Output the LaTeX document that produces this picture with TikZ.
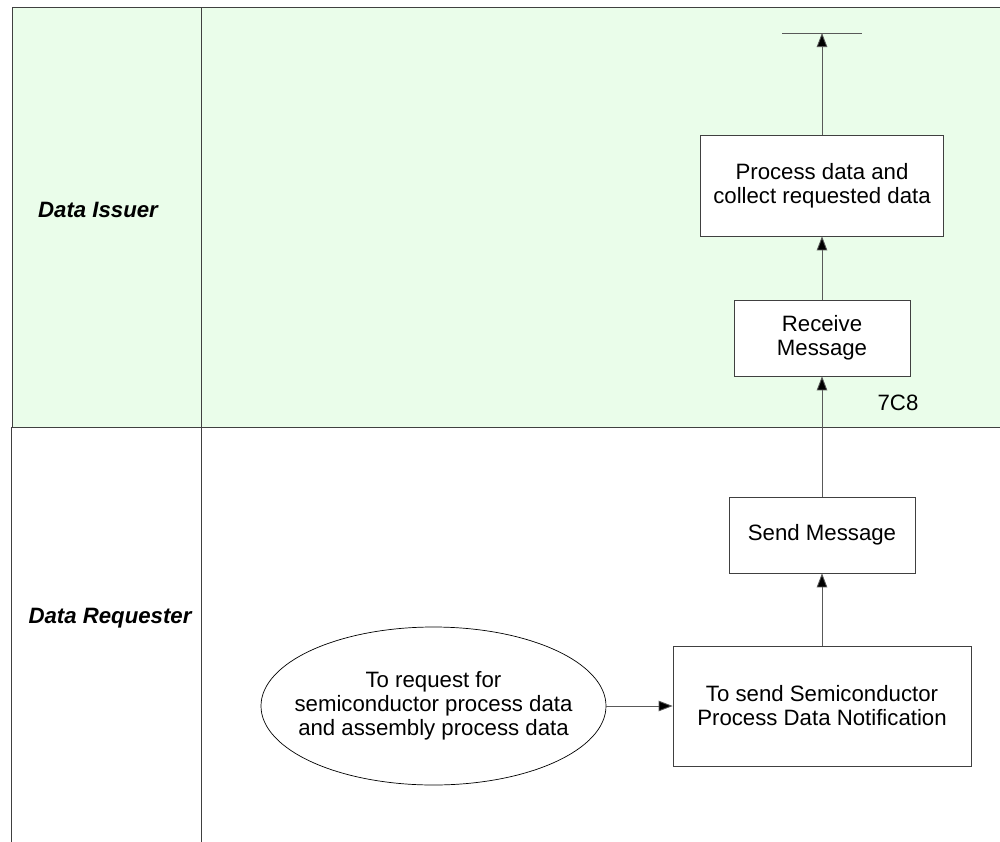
\documentclass[tikz,border=0pt]{standalone}
\usepackage{fontspec}
\setmainfont{Liberation Sans}
\usetikzlibrary{shapes.geometric,arrows.meta}
\definecolor{lanegreen}{RGB}{234,253,234}
\definecolor{edge}{RGB}{64,64,64}

\begin{document}
\begin{tikzpicture}[x=0.025cm,y=-0.025cm,
  every node/.style={inner sep=1pt,font=\fontsize{15.8}{17}\selectfont,align=center},
  stepbox/.style={draw=edge,fill=white,line width=0.5pt,minimum width=#1},
  flow/.style={draw=black!65,line width=0.6pt,-{Triangle[length=10pt,width=7.5pt,fill=black]}},
  lane/.style={draw=edge,line width=0.6pt},
  lanelabel/.style={font=\fontsize{15.8}{17}\selectfont\bfseries\itshape}]
\useasboundingbox (0,0) rectangle (1000,842);
\fill[lanegreen] (12,7) rectangle (1000,427);
\draw[lane] (12,427) -- (12,7) -- (1000,7);
\draw[lane] (11,427) -- (1000,427);
\draw[lane] (11,427) -- (11,842);
\draw[lane] (201,7) -- (201,842);
\node[lanelabel] (issuer) at (98,210) {Data Issuer};
\node[lanelabel] (requester) at (110,618) {Data Requester};
\node[stepbox=243*0.025cm,minimum height=101*0.025cm] (proc) at (822,185.5) {Process data and\\collect requested data};
\node[stepbox=176*0.025cm,minimum height=76*0.025cm] (recv) at (822,338) {Receive\\Message};
\node[stepbox=186*0.025cm,minimum height=76*0.025cm] (send) at (822,535) {Send Message};
\node[stepbox=298*0.025cm,minimum height=120*0.025cm] (notif) at (822,706) {To send Semiconductor\\Process Data Notification};
\node[draw=black,ellipse,line width=0.5pt,inner xsep=-14pt,inner ysep=0pt,minimum width=345*0.025cm,minimum height=158*0.025cm] (req) at (433.5,706) {To request for\\semiconductor process data\\and assembly process data};
\node (code) at (898,403) {7C8};
\coordinate (out) at (822,33);
\draw[black!65,line width=0.6pt] (782,33) -- (862,33);
\draw[flow] (req.east) -- (notif.west);
\draw[flow] (notif.north) -- (send.south);
\draw[flow] (send.north) -- (recv.south);
\draw[flow] (recv.north) -- (proc.south);
\draw[flow] (proc.north) -- (out);
\end{tikzpicture}
\end{document}
